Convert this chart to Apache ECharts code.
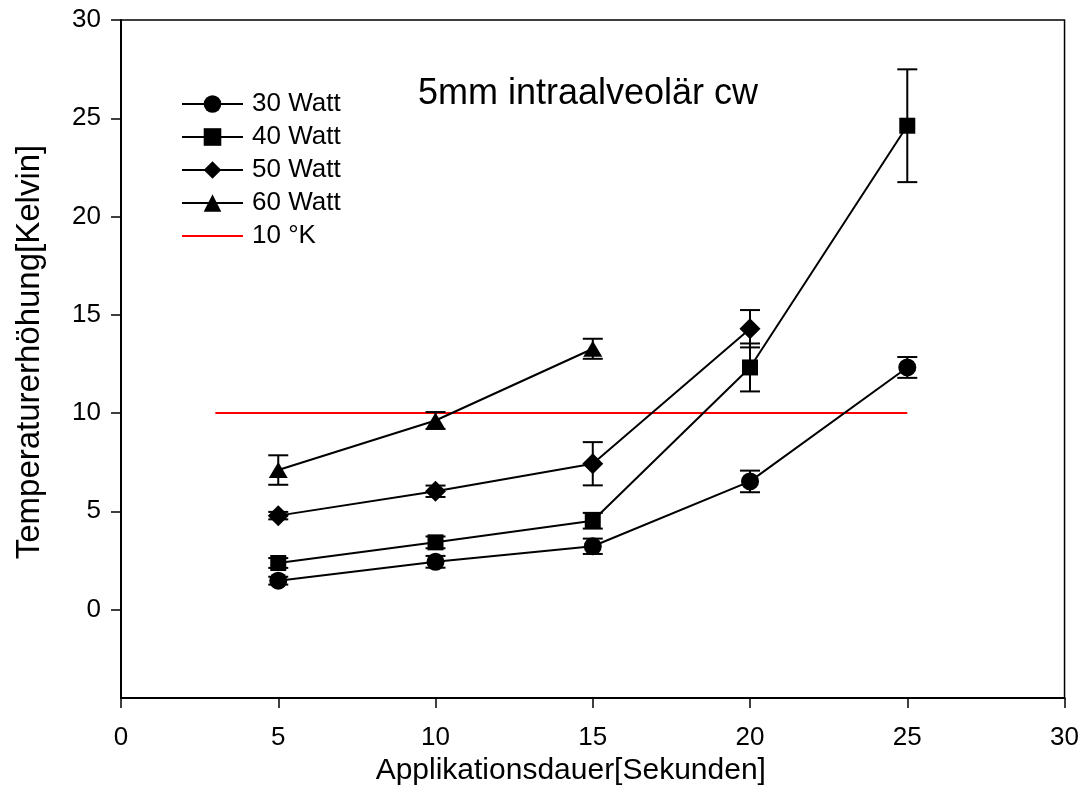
<!DOCTYPE html>
<html><head><meta charset="utf-8">
<script src="https://cdn.jsdelivr.net/npm/echarts@6/dist/echarts.min.js"></script>
<style>html,body{margin:0;padding:0;background:#fff}#c{width:1082px;height:811px}</style>
</head><body><div id="c"></div>
<script>
const xValues = [5, 10, 15, 20, 25];
const w30 = [1.47, 2.43, 3.22, 6.52, 12.32];
const w30err = [0.2, 0.3, 0.39, 0.55, 0.53];
const w40 = [2.37, 3.42, 4.52, 12.32, 24.62];
const w40err = [0.25, 0.3, 0.4, 1.22, 2.87];
const w50 = [4.78, 6.02, 7.42, 14.29];
const w50err = [0.19, 0.29, 1.1, 0.95];
const w60 = [7.1, 9.62, 13.27];
const w60err = [0.75, 0.43, 0.51];
const refX = [3, 25];
const refY = 10;
const yTicks = [0, 5, 10, 15, 20, 25, 30];
const seriesNames = ['30 Watt', '40 Watt', '50 Watt', '60 Watt', '10 °K'];
const titleText = '5mm intraalveolär cw';

const FONT = 'Liberation Sans, Arial, sans-serif';
const pts = (vals) => vals.map((v, i) => [xValues[i], v]);
const errs = (vals, e) => vals.map((v, i) => [xValues[i], v - e[i], v + e[i]]);

function errSeries(vals, e) {
  return {
    type: 'custom', silent: true, z: 3,
    data: errs(vals, e),
    renderItem: function (params, api) {
      const x = api.value(0);
      const lo = api.coord([x, api.value(1)]);
      const hi = api.coord([x, api.value(2)]);
      const hw = 10;
      const st = { stroke: '#000', lineWidth: 2 };
      return { type: 'group', children: [
        { type: 'line', shape: { x1: lo[0], y1: lo[1], x2: hi[0], y2: hi[1] }, style: st },
        { type: 'line', shape: { x1: lo[0] - hw, y1: lo[1], x2: lo[0] + hw, y2: lo[1] }, style: st },
        { type: 'line', shape: { x1: hi[0] - hw, y1: hi[1], x2: hi[0] + hw, y2: hi[1] }, style: st }
      ]};
    }
  };
}
function lineSeries(name, vals, symbol, size) {
  return {
    name: name, type: 'line', data: pts(vals), symbol: symbol, symbolSize: size, z: 4,
    showAllSymbol: true,
    lineStyle: { color: '#000', width: 2 }, itemStyle: { color: '#000' }
  };
}

const legendData = seriesNames.map((n, i) => i === 4 ? { name: n, itemStyle: { opacity: 0 } } : { name: n });

const chart = echarts.init(document.getElementById('c'), null, { renderer: 'canvas' });
chart.setOption({
  animation: false,
  backgroundColor: '#fff',
  title: { text: titleText, left: 413, top: 71,
    textStyle: { fontFamily: FONT, fontSize: 36, fontWeight: 'normal', color: '#000' } },
  legend: {
    data: legendData, orient: 'vertical', left: 176, top: 86,
    itemWidth: 61, itemHeight: 22, itemGap: 7,
    textStyle: { fontFamily: FONT, fontSize: 26, color: '#000', padding: [0, 0, 0, 4] }
  },
  grid: { left: 121, right: 17, top: 20, bottom: 113, show: true, borderColor: '#000', borderWidth: 1.5 },
  xAxis: {
    type: 'value', min: 0, max: 30, interval: 5,
    name: 'Applikationsdauer[Sekunden]', nameLocation: 'middle', nameGap: 58,
    nameTextStyle: { fontFamily: FONT, fontSize: 30, color: '#000', padding: [0, 44, 0, 0] },
    axisLine: { show: true, onZero: false, lineStyle: { color: '#000', width: 2 } },
    axisTick: { show: true, inside: false, length: 10, lineStyle: { color: '#000', width: 1.5 } },
    axisLabel: { fontFamily: FONT, fontSize: 26, color: '#000', margin: 27 },
    splitLine: { show: false }
  },
  yAxis: {
    type: 'value', min: -4.5, max: 30,
    name: 'Temperaturerhöhung[Kelvin]', nameLocation: 'middle', nameGap: 75,
    nameTextStyle: { fontFamily: FONT, fontSize: 33, color: '#000', padding: [0, 0, 0, 14] },
    axisLine: { show: true, onZero: false, lineStyle: { color: '#000', width: 2 } },
    axisTick: { show: true, inside: false, length: 10, customValues: yTicks, lineStyle: { color: '#000', width: 1.5 } },
    axisLabel: { fontFamily: FONT, fontSize: 26, color: '#000', margin: 20, customValues: yTicks },
    splitLine: { show: false }
  },
  series: [
    errSeries(w30, w30err), errSeries(w40, w40err), errSeries(w50, w50err), errSeries(w60, w60err),
    lineSeries(seriesNames[0], w30, 'circle', 18),
    lineSeries(seriesNames[1], w40, 'rect', 16),
    lineSeries(seriesNames[2], w50, 'diamond', 21),
    lineSeries(seriesNames[3], w60, 'triangle', [19, 16]),
    { name: seriesNames[4], type: 'line', data: refX.map(x => [x, refY]), symbol: 'none', z: 2,
      lineStyle: { color: '#ff0000', width: 2 }, itemStyle: { color: '#ff0000' } }
  ]
});
</script></body></html>
